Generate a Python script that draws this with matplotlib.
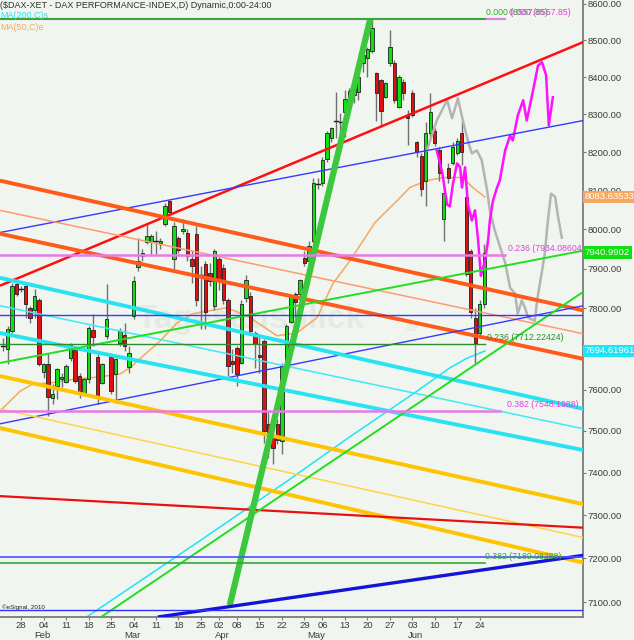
import numpy as np
import matplotlib
matplotlib.use("Agg")
import matplotlib.pyplot as plt
from matplotlib.patches import Rectangle
from matplotlib.ticker import FixedLocator, FixedFormatter, NullLocator
from matplotlib.transforms import blended_transform_factory

plt.rcParams['font.family'] = ['Liberation Sans', 'DejaVu Sans']

# ---------------- data ----------------
opens = [7705, 7700, 7744, 7862, 7847, 7857, 7800, 7795, 7822, 7643,
         7663, 7579, 7609, 7626, 7619, 7677, 7697, 7633, 7592, 7626,
         7747, 7680, 7616, 7732, 7680, 7638, 7714, 7734, 7655, 7782,
         7905, 7933, 7969, 7969, 7969, 7966, 8015, 8074, 7925, 7979,
         7997, 7992, 7925, 7989, 7887, 7912, 7890, 7807, 7925, 7902,
         7820, 7670, 7702, 7665, 7825, 7832, 7739, 7685, 7719, 7517,
         7488, 7517, 7476, 7658, 7767, 7835, 7837, 7928, 7920, 7971,
         8118, 8121, 8182, 8237, 8279, 8282, 8306, 8340, 8351, 8359,
         8437, 8451, 8470, 8410, 8391, 8346, 8437, 8437, 8319, 8386,
         8295, 8356, 8226, 8190, 8126, 8250, 8255, 8205, 8028, 8158,
         8171, 8197, 8252, 8084, 7946, 7777, 7739, 7810]
highs = [7727, 7757, 7865, 7870, 7857, 7865, 7807, 7850, 7827, 7665,
         7690, 7614, 7653, 7641, 7663, 7714, 7700, 7641, 7628, 7757,
         7787, 7687, 7665, 7862, 7682, 7677, 7752, 7764, 7707, 7882,
         7979, 7951, 8015, 7989, 7997, 7979, 8067, 8077, 8018, 7984,
         8028, 8002, 7946, 8010, 7907, 7920, 7915, 7951, 7933, 7912,
         7825, 7700, 7707, 7820, 7885, 7840, 7744, 7732, 7724, 7548,
         7517, 7529, 7665, 7762, 7837, 7840, 7875, 7946, 7971, 8132,
         8132, 8187, 8255, 8266, 8359, 8303, 8364, 8370, 8391, 8405,
         8472, 8480, 8560, 8413, 8396, 8386, 8527, 8445, 8405, 8396,
         8311, 8364, 8231, 8197, 8279, 8356, 8263, 8213, 8113, 8171,
         8226, 8237, 8284, 8087, 7951, 7800, 7820, 7963]
lows = [7695, 7663, 7739, 7832, 7840, 7777, 7764, 7777, 7658, 7628,
        7536, 7565, 7577, 7606, 7616, 7670, 7616, 7579, 7589, 7616,
        7707, 7565, 7614, 7724, 7589, 7567, 7707, 7695, 7641, 7774,
        7895, 7920, 7963, 7938, 7938, 7951, 8010, 8041, 7895, 7941,
        7989, 7920, 7865, 7807, 7749, 7749, 7857, 7795, 7845, 7812,
        7633, 7641, 7609, 7663, 7815, 7739, 7653, 7641, 7471, 7435,
        7421, 7469, 7445, 7653, 7764, 7777, 7832, 7907, 7907, 7966,
        8105, 8113, 8174, 8226, 8237, 8224, 8240, 8303, 8330, 8338,
        8413, 8399, 8464, 8284, 8266, 8343, 8431, 8330, 8316, 8338,
        8218, 8292, 8187, 8087, 8060, 8240, 8216, 8126, 7971, 8121,
        8166, 8192, 8166, 7882, 7777, 7663, 7727, 7802]
closes = [7707, 7749, 7857, 7837, 7850, 7812, 7777, 7832, 7663, 7663,
          7582, 7589, 7650, 7631, 7658, 7709, 7621, 7592, 7626, 7752,
          7729, 7582, 7663, 7774, 7596, 7675, 7744, 7707, 7690, 7870,
          7920, 7941, 7984, 7984, 7971, 7971, 8059, 8044, 8010, 7948,
          8002, 7933, 7907, 7820, 7885, 7790, 7870, 7946, 7875, 7820,
          7658, 7663, 7638, 7812, 7872, 7744, 7712, 7680, 7500, 7471,
          7459, 7478, 7658, 7757, 7832, 7815, 7872, 7915, 7958, 8121,
          8116, 8179, 8250, 8263, 8282, 8279, 8340, 8362, 8370, 8399,
          8459, 8475, 8533, 8356, 8308, 8383, 8480, 8338, 8399, 8356,
          8290, 8298, 8200, 8105, 8252, 8306, 8224, 8145, 8095, 8132,
          8213, 8229, 8200, 7887, 7790, 7714, 7810, 7941]

ma50_idx = [-0.7, 0.0, 3.8, 6.7, 10.4, 16.4, 21.6, 26.0, 28.2, 31.1, 34.9, 38.7,
            42.2, 43.8, 49.8, 54.9, 60.9, 65.3, 69.8, 73.3, 77.1, 82.7, 87.6,
            90.4, 94.2, 97.8, 102.2, 104.4, 107.1]
ma50_val = [7548, 7555, 7596, 7614, 7616, 7626, 7631, 7638, 7653, 7682, 7719, 7764,
            7787, 7790, 7802, 7777, 7732, 7739, 7777, 7862, 7920, 8018, 8074,
            8108, 8126, 8134, 8134, 8108, 8083.6]

ma200_idx = [17.0, 43.8, 63.1, 77.1, 92.0, 99.3, 103.0, 107.1]
ma200_val = [7055, 7241, 7380, 7486, 7596, 7653, 7676, 7694.6]

proj_gray_idx = [94.2, 96.4, 98.7, 99.8, 101.1, 102.2, 103.3, 104.2, 105.3, 106.4,
                 107.6, 108.2, 109.3, 110.4, 111.6, 112.7, 113.8, 114.4, 115.3, 116.0,
                 116.7, 118.2, 118.7, 119.8, 120.4, 121.1, 121.8, 122.7, 123.3, 124.2]
proj_gray_val = [8205, 8284, 8338, 8290, 8343, 8284, 8231, 8197, 8205, 8179,
                 8100, 8049, 7997, 7958, 7915, 7852, 7837, 7787, 7820, 7802,
                 7777, 7769, 7820, 7895, 7938, 8023, 8092, 8084, 8036, 7979]

proj_mag_idx = [96.4, 97.6, 98.7, 99.3, 100.0, 100.9, 101.6, 102.0, 102.7, 103.3,
                104.2, 104.9, 105.6, 106.2, 107.1, 107.8, 108.2, 108.9, 109.8, 110.4,
                111.6, 112.7, 113.3, 114.4, 115.6, 116.4, 117.8, 118.9, 119.8, 120.7,
                121.3, 122.2]
proj_mag_val = [8205, 8148, 8064, 8059, 8118, 8171, 8161, 8108, 8161, 8066,
                8023, 8049, 7971, 7882, 7920, 7971, 8023, 8074, 8108, 8126,
                8205, 8244, 8231, 8297, 8338, 8284, 8364, 8431, 8440, 8405,
                8271, 8346]

# trend lines: start index, start price, end index, end price
trend_start_idx = [-0.7, -0.7, -0.7, -0.7, -0.7, -0.7, -0.7, -0.7, -0.7, -0.7,
                   -0.7, -0.7, -0.7, -0.7, 21.8, 50.4, 34.4]
trend_start_val = [7857, 7992, 8126, 8049, 7989, 7517, 7633, 7553, 7507, 7345,
                   7877, 7807, 7739, 7665, 7066, 7093, 7066]
trend_end_idx = [129, 129, 129, 129, 129, 129, 129, 129, 129, 129,
                 129, 129, 129, 129, 129, 81.6, 129]
trend_end_val = [8495, 8284, 7795, 7737, 7675, 7807, 7326, 7248, 7190, 7271,
                 7553, 7505, 7454, 7946, 7842, 8557, 7207]

# horizontal levels
hlev_val = [7784, 7712.22424, 7934.08604, 7548.1988, 8557.85, 8557.85, 7189.08288, 7203, 7081]
hlev_end = [129, 107.1, 111.6, 110.4, 111.6, 107.1, 107.1, 129, 129]

fib_labels = ["0.236 (7712.22424)", "0.236 (7934.08604)", "0.382 (7548.1988)",
              "0.382 (7189.08288)", "0.000 (8557.85)", "0.000 (8557.85)"]
fib_values = [7712.22424, 7934.08604, 7548.1988, 7189.08288, 8557.85, 8557.85]
fib_x = [107.6, 112.2, 112.0, 107.1, 107.3, 112.4]

price_ticks = [7100, 7200, 7300, 7400, 7500, 7600, 7700, 7800, 7900, 8000,
               8100, 8200, 8300, 8400, 8500, 8600]
day_tick_idx = [4, 9, 14, 19, 24, 29, 34, 39, 44, 48, 52, 57, 62, 67, 71, 76,
                81, 86, 91, 96, 101, 106]
day_tick_lbl = ["28", "04", "11", "18", "25", "04", "11", "18", "25", "02", "08",
                "15", "22", "29", "06", "13", "20", "27", "03", "10", "17", "24"]
month_idx = [8.7, 28.7, 48.7, 69.7, 91.7]
month_lbl = ["Feb", "Mar", "Apr", "May", "Jun"]

last_close = 7940.9902
ma50_last = 8083.63533
ma200_last = 7694.61961

# ---------------- styling ----------------
BG = '#F0F6EF'
fig = plt.figure(figsize=(6.34, 6.40), dpi=100)
fig.patch.set_facecolor(BG)
ax = fig.add_axes([0, 23 / 640, 583 / 634, 617 / 640])
ax.set_facecolor(BG)
ax.set_yscale('log')
ax.set_ylim(7066, 8610)
ax.set_xlim(-0.67, 128.9)

for s in ['left', 'top']:
    ax.spines[s].set_visible(False)
for s in ['right', 'bottom']:
    ax.spines[s].set_color('#7a7a7a')
    ax.spines[s].set_linewidth(1.3)

ax.yaxis.tick_right()
ax.yaxis.set_major_locator(FixedLocator(price_ticks))
ax.yaxis.set_major_formatter(FixedFormatter([f"{v:.2f}" for v in price_ticks]))
ax.yaxis.set_minor_locator(NullLocator())
ax.tick_params(axis='y', which='major', length=2, width=0.8, color='#7a7a7a',
               labelcolor='#3a3a3a', labelsize=6.8, pad=1)
ax.xaxis.set_major_locator(FixedLocator(day_tick_idx))
ax.xaxis.set_minor_locator(NullLocator())
ax.tick_params(axis='x', which='major', length=2, width=0.8, color='#7a7a7a',
               labelbottom=False)

xt = blended_transform_factory(ax.transData, ax.transAxes)
for i, lbl in zip(day_tick_idx, day_tick_lbl):
    ax.text(i, -8 / 617, lbl, transform=xt, ha='center', va='center',
            fontsize=6.8, color='#3a3a3a', clip_on=False)
for i, lbl in zip(month_idx, month_lbl):
    ax.text(i, -18 / 617, lbl, transform=xt, ha='center', va='center',
            fontsize=6.8, color='#3a3a3a', clip_on=False)

# watermark
ax.text(29.8, 7752, "Tagesausblick", fontsize=24, color='#E3EBE2', ha='left',
        va='baseline', zorder=0.5, fontweight='bold')
ax.text(89.3, 7745, ".de", fontsize=7, color='#E3EBE2', ha='left',
        va='baseline', zorder=0.5, fontweight='bold')

# moving averages (under candles)
ax.plot(ma200_idx, ma200_val, color='#20E4F4', lw=1.1, zorder=2)
ax.plot(ma50_idx, ma50_val, color='#F4A862', lw=1.1, zorder=2)

# candles
x = np.arange(len(opens))
for xi, o, h, l, c in zip(x, opens, highs, lows, closes):
    ax.plot([xi, xi], [l, h], color='#707070', lw=1.0, zorder=3,
            solid_capstyle='butt')
    up = c >= o
    col = '#10E010' if up else '#E01010'
    lo_, hi_ = min(o, c), max(o, c)
    if hi_ / lo_ < 1.0006:
        ax.plot([xi - 0.35, xi + 0.35], [c, c], color='#202020', lw=1.0, zorder=4)
    else:
        ax.add_patch(Rectangle((xi - 0.34, lo_), 0.68, hi_ - lo_, facecolor=col,
                               edgecolor='#202020', lw=0.6, zorder=4))

# projections
ax.plot(proj_gray_idx, proj_gray_val, color='#B4B4B4', lw=1.8, zorder=5)
ax.plot(proj_mag_idx, proj_mag_val, color='#FF10FF', lw=1.8, zorder=5)

# trend line styles (kept separate from data)
trend_styles = [('#FF1010', 1.8), ('#3838FF', 1.0), ('#FF5A1A', 2.8), ('#FF9A70', 1.1),
                ('#FF5A1A', 2.8), ('#3838FF', 1.0), ('#FFC400', 2.8), ('#FFD24A', 1.1),
                ('#FFC400', 2.8), ('#E81010', 1.6), ('#28E2F2', 2.8), ('#40E8F8', 1.1),
                ('#28E2F2', 2.8), ('#22DD22', 1.4), ('#22DD22', 1.4), ('#3CC83C', 4.5),
                ('#1414D8', 2.4)]
for (i0, v0, i1, v1), (col, lw) in zip(zip(trend_start_idx, trend_start_val,
                                          trend_end_idx, trend_end_val), trend_styles):
    ax.plot([i0, i1], [v0, v1], color=col, lw=lw, zorder=6, solid_capstyle='butt')

hlev_styles = [('#3838FF', 1.0), ('#2E8B2E', 1.0), ('#E87AE8', 1.8), ('#E87AE8', 1.8),
               ('#E87AE8', 1.6), ('#33AA33', 1.4), ('#33AA33', 1.2), ('#5050FF', 1.2),
               ('#3030FF', 1.0)]
for v, e, (col, lw) in zip(hlev_val, hlev_end, hlev_styles):
    ax.plot([-0.7, e], [v, v], color=col, lw=lw, zorder=6)

fib_colors = ['#2E8B2E', '#E040E0', '#E040E0', '#33AA33', '#33AA33', '#E040E0']
for lbl, v, xi, col in zip(fib_labels, fib_values, fib_x, fib_colors):
    ax.text(xi, v * 1.0007, lbl, color=col, fontsize=6.3, ha='left', va='bottom',
            zorder=7, clip_on=True)

# header texts
ax.text(0.0, 1 - 5 / 617, "($DAX-XET - DAX PERFORMANCE-INDEX,D) Dynamic,0:00-24:00",
        transform=ax.transAxes, fontsize=6.5, color='#303030', ha='left', va='center', zorder=8)
ax.text(0.0, 1 - 16 / 617, "MA(200,C)s", transform=ax.transAxes, fontsize=6.5,
        color='#20E4F4', ha='left', va='center', zorder=8)
ax.text(0.0, 1 - 27 / 617, "MA(50,C)e", transform=ax.transAxes, fontsize=6.5,
        color='#F4A862', ha='left', va='center', zorder=8)
ax.text(0.004, 10 / 617, "\u00a9eSignal, 2010", transform=ax.transAxes, fontsize=4.5,
        color='#202020', ha='left', va='center', zorder=8)

# value boxes on the price axis
yt = blended_transform_factory(ax.transAxes, ax.transData)
for v, fc, txt in [(ma50_last, '#F4A862', f"{ma50_last:.5f}"),
                   (last_close, '#10E010', f"{last_close:.4f}"),
                   (ma200_last, '#20E4F4', f"{ma200_last:.5f}")]:
    ax.text(1.003, v, txt, transform=yt, fontsize=6.8, color='white', ha='left',
            va='center', clip_on=False, zorder=9,
            bbox=dict(boxstyle='square,pad=0.18', fc=fc, ec='none'))

fig.savefig('out.png', dpi=100, facecolor=BG)
